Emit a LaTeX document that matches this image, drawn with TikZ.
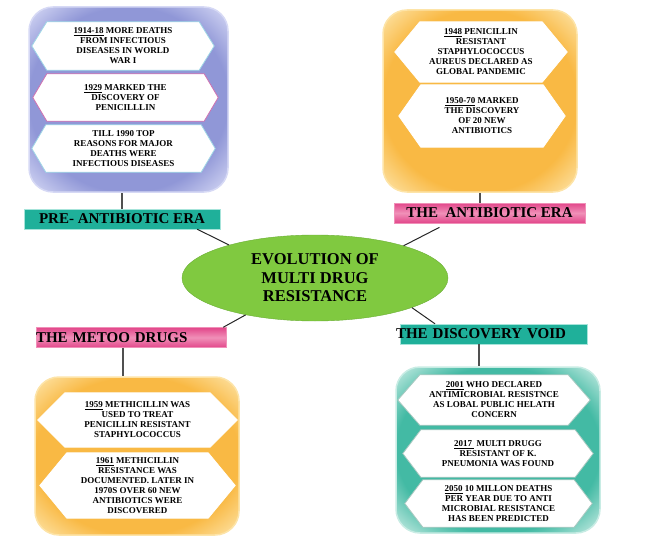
\documentclass[tikz,border=0pt]{standalone}
\usepackage{fontspec}
\setmainfont{Liberation Serif}
\usepackage{tikz}
\usetikzlibrary{shapes.geometric}

\pgfdeclarelayer{boxes}
\pgfdeclarelayer{hexes}
\pgfsetlayers{boxes,hexes,main}

\definecolor{lavender}{HTML}{9097D7}
\definecolor{lavlight}{HTML}{D6D9F5}
\definecolor{amber}{HTML}{F9B944}
\definecolor{amberlight}{HTML}{FDE4A8}
\definecolor{seagreen}{HTML}{43BAA4}
\definecolor{sealight}{HTML}{C8ECE4}
\definecolor{tealbar}{HTML}{1FB09A}
\definecolor{teallight}{HTML}{A6E4DA}
\definecolor{pinkbar}{HTML}{E2468A}
\definecolor{pinklight}{HTML}{F090B8}
\definecolor{leaf}{HTML}{80C940}
\definecolor{leafdark}{HTML}{6BAF35}
\definecolor{stemgray}{HTML}{505050}
\definecolor{hexcyan}{HTML}{9ED6E6}
\definecolor{hexpink}{HTML}{D070B0}
\definecolor{hexgray}{HTML}{A8C8C0}

\pgfdeclareradialshading{blueglow}{\pgfpoint{0bp}{0bp}}{color(0bp)=(lavender); color(25bp)=(lavender); color(35bp)=(lavlight); color(50bp)=(lavlight)}
\pgfdeclareradialshading{amberglow}{\pgfpoint{0bp}{0bp}}{color(0bp)=(amber); color(25bp)=(amber); color(35bp)=(amberlight); color(50bp)=(amberlight)}
\pgfdeclareradialshading{seaglow}{\pgfpoint{0bp}{0bp}}{color(0bp)=(seagreen); color(25bp)=(seagreen); color(35bp)=(sealight); color(50bp)=(sealight)}

\begin{document}
\begin{tikzpicture}[x=1pt, y=-1pt,
    panel/.style={rounded corners=24pt, line width=1.5pt},
    hextext/.style={font=\bfseries\fontsize{9}{10}\selectfont, align=center, inner sep=0pt},
    era/.style={font=\bfseries\fontsize{15}{16}\selectfont, inner sep=0pt, minimum height=20pt},
    pinkera/.style={era, top color=pinkbar, bottom color=pinkbar, middle color=pinklight, draw=pinklight},
    tealera/.style={era, fill=tealbar, draw=teallight},
    stem/.style={draw=stemgray, line width=1.3pt},
    spoke/.style={draw=black!85, line width=1pt}]

    \useasboundingbox (0,0) rectangle (654,543);

    \begin{pgfonlayer}{boxes}
    \node[panel, draw=lavlight, shading=blueglow, minimum width=199pt, minimum height=185pt] (prebox) at (128.5,99.5) {};
    \node[panel, draw=amberlight, shading=amberglow, minimum width=194pt, minimum height=182pt] (antibox) at (480,101) {};
    \node[panel, draw=amberlight, shading=amberglow, minimum width=204pt, minimum height=158pt] (metoobox) at (137,456) {};
    \node[panel, draw=sealight, shading=seaglow, minimum width=204pt, minimum height=166pt] (voidbox) at (498,450) {};
    \end{pgfonlayer}

    % pre-antibiotic era
    \node[hextext, minimum width=182pt, minimum height=48pt] (pre1) at (123,46) {\underline{1914-18} MORE DEATHS\\FROM INFECTIOUS\\DISEASES IN WORLD\\WAR I};
    \node[hextext, minimum width=185pt, minimum height=47pt] (pre2) at (125.5,97.5) {\underline{1929} MARKED THE\\DISCOVERY OF\\PENICILLLIN};
    \node[hextext, minimum width=183pt, minimum height=47pt] (pre3) at (123.5,148.5) {TILL 1990 TOP\\REASONS FOR MAJOR\\DEATHS WERE\\INFECTIOUS DISEASES};

    % antibiotic era
    \node[hextext, minimum width=172pt, minimum height=60pt] (anti1) at (481,52) {\underline{1948} PENICILLIN\\RESISTANT\\STAPHYLOCOCCUS\\AUREUS DECLARED AS\\GLOBAL PANDEMIC};
    \node[hextext, minimum width=166pt, minimum height=62pt] (anti2) at (482,116) {\underline{1950-70} MARKED\\THE DISCOVERY\\OF 20 NEW\\ANTIBIOTICS};

    % metoo drugs
    \node[hextext, minimum width=199pt, minimum height=54pt] (metoo1) at (137.5,420) {\underline{1959} METHICILLIN WAS\\USED TO TREAT\\PENICILLIN RESISTANT\\STAPHYLOCOCCUS};
    \node[hextext, minimum width=195pt, minimum height=65pt] (metoo2) at (137.5,485.5) {\underline{1961} METHICILLIN\\RESISTANCE WAS\\DOCUMENTED. LATER IN\\1970S OVER 60 NEW\\ANTIBIOTICS WERE\\DISCOVERED};

    % discovery void
    \node[hextext, minimum width=192pt, minimum height=50pt] (void1) at (494,400) {\underline{2001} WHO DECLARED\\ANTIMICROBIAL RESISTNCE\\AS LOBAL PUBLIC HELATH\\CONCERN};
    \node[hextext, minimum width=190pt, minimum height=47pt] (void2) at (498,453.5) {\underline{2017\ } MULTI DRUGG\\RESISTANT OF K.\\PNEUMONIA WAS FOUND};
    \node[hextext, minimum width=187pt, minimum height=47pt] (void3) at (498.5,503.5) {\underline{2050} 10 MILLON DEATHS\\PER YEAR DUE TO ANTI\\MICROBIAL RESISTANCE\\HAS BEEN PREDICTED};

    \begin{pgfonlayer}{hexes}
    \foreach \h/\d/\c in {pre1/15/hexcyan, pre2/14/hexpink, pre3/14/hexcyan, anti1/25/white, anti2/22/white,
                          metoo1/27/white, metoo2/27/white, void1/22/hexgray, void2/18/hexgray, void3/18/hexgray}
      \draw[fill=white, draw=\c, line width=0.8pt] (\h.west) -- ([xshift=\d pt]\h.north west) -- ([xshift=-\d pt]\h.north east)
        -- (\h.east) -- ([xshift=-\d pt]\h.south east) -- ([xshift=\d pt]\h.south west) -- cycle;
    \end{pgfonlayer}

    % centre and era labels
    \node[ellipse, fill=leaf, draw=leafdark, minimum width=266pt, minimum height=86pt, inner sep=0pt, align=center,
          font=\bfseries\fontsize{16.5}{18.5}\selectfont] (evo) at (315,278) {EVOLUTION OF\\MULTI DRUG\\RESISTANCE};

    \node[tealera, minimum width=196pt] (prelab) at (122,219) {PRE- ANTIBIOTIC ERA};
    \node[pinkera, minimum width=191pt] (antilab) at (489.5,213) {THE\ \ ANTIBIOTIC ERA};
    \node[pinkera, text width=190pt, align=left] (metoolab) at (131,337.5) {THE METOO DRUGS};
    \node[tealera, text width=187pt, align=left] (voidlab) at (493.5,334) {\hspace*{-4pt}THE DISCOVERY VOID};

    \draw[stem] (prelab.north) -- (prelab.north |- prebox.south);
    \draw[stem] (antibox.south) -- (antibox.south |- antilab.north);
    \draw[stem] ([xshift=-8pt]metoolab.south) -- ([xshift=-8pt]metoolab.south |- metoobox.north);
    \draw[stem] ([xshift=-14.5pt]voidlab.south) -- ([xshift=-14.5pt]voidlab.south |- voidbox.north);

    \draw[spoke] ([xshift=-23pt]prelab.south east) -- (evo.159);
    \draw[spoke, shorten <=9pt] ([xshift=-42pt]antilab.south) -- (evo.20);
    \draw[spoke] ([xshift=-3pt]metoolab.north east) -- (evo.208);
    \draw[spoke] ([xshift=-58.5pt]voidlab.north) -- (evo.343);
\end{tikzpicture}
\end{document}
